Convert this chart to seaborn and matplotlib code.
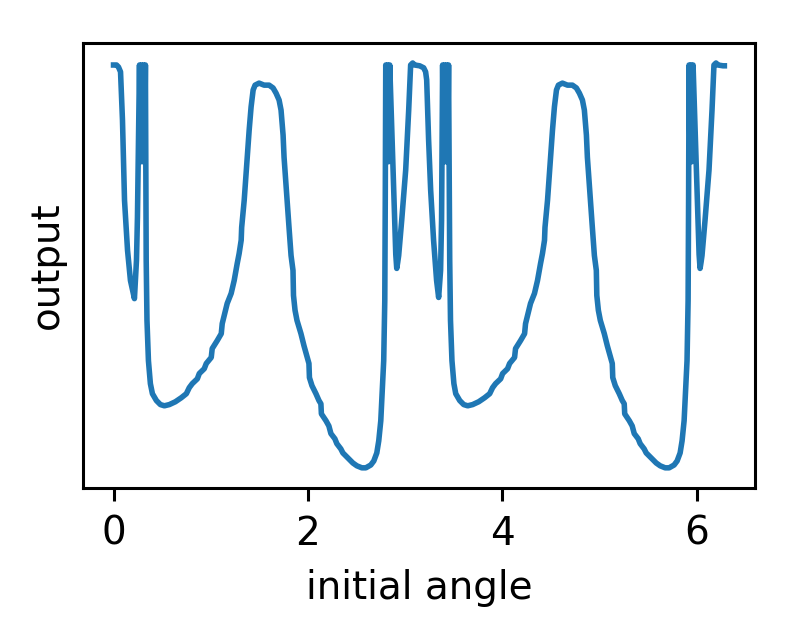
import numpy as np
import pandas as pd
import matplotlib
matplotlib.use("Agg")
import matplotlib.pyplot as plt
import seaborn as sns


# Data (angle in radians, output in arbitrary units)
angle = [
    0.000, 0.031, 0.051, 0.072, 0.092, 0.113, 0.144, 0.174, 0.215, 0.236,
    0.246, 0.267, 0.277, 0.287, 0.297, 0.308, 0.318, 0.328, 0.336, 0.344,
    0.359, 0.379,
    0.400, 0.441, 0.482, 0.523, 0.574, 0.636, 0.697, 0.749, 0.779, 0.810,
    0.862, 0.882, 0.933, 0.954, 1.005, 1.015, 1.067, 1.108, 1.118, 1.138,
    1.169, 1.210, 1.241, 1.272, 1.292, 1.313, 1.318, 1.344, 1.364, 1.395,
    1.415, 1.436, 1.456, 1.497, 1.549, 1.600, 1.641, 1.672, 1.703, 1.723,
    1.744, 1.754, 1.785, 1.805, 1.826, 1.846, 1.851, 1.867, 1.887, 1.928,
    1.959, 2.010, 2.015, 2.041, 2.082, 2.113, 2.133, 2.138, 2.185, 2.215,
    2.236, 2.277, 2.297, 2.338, 2.359, 2.421, 2.462, 2.503, 2.554, 2.595,
    2.646, 2.677, 2.708, 2.728, 2.749, 2.759, 2.779, 2.790, 2.795, 2.800,
    2.810, 2.820, 2.830, 2.841, 2.903, 2.913, 2.923, 2.933, 2.964,
    3.005, 3.036, 3.056, 3.077, 3.097, 3.149, 3.190, 3.210, 3.221, 3.241,
    3.262, 3.292, 3.323, 3.344, 3.364, 3.374, 3.385, 3.395, 3.405, 3.415,
    3.426, 3.436, 3.446, 3.458, 3.466, 3.481, 3.501, 3.520, 3.561, 3.602,
    3.643, 3.694,
    3.756, 3.817, 3.869, 3.899, 3.930, 3.982, 4.002, 4.053, 4.074, 4.125,
    4.135, 4.187, 4.228, 4.238, 4.258, 4.289, 4.330, 4.361, 4.392, 4.412,
    4.433, 4.438, 4.464, 4.484, 4.515, 4.535, 4.556, 4.576, 4.617, 4.669,
    4.720, 4.761, 4.792, 4.823, 4.843, 4.864, 4.874, 4.905, 4.925, 4.946,
    4.966, 4.971, 4.987, 5.007, 5.048, 5.079, 5.130, 5.135, 5.161, 5.202,
    5.233, 5.253, 5.258, 5.305, 5.335, 5.356, 5.397, 5.417, 5.458, 5.479,
    5.541, 5.582, 5.623, 5.674, 5.715, 5.766, 5.797, 5.828, 5.848, 5.869,
    5.879, 5.899, 5.910, 5.915, 5.920, 5.930, 5.940, 5.950, 5.961, 6.023,
    6.033, 6.043, 6.053, 6.084, 6.125, 6.156, 6.176, 6.197, 6.217,
    6.269, 6.283,
]

output = [
    1.000, 1.000, 0.995, 0.983, 0.863, 0.664, 0.540, 0.465, 0.420, 0.515,
    0.622, 1.000, 0.760, 1.000, 0.760, 1.000, 0.760, 1.000, 0.515, 0.366,
    0.266, 0.209,
    0.184, 0.167, 0.157, 0.154, 0.157, 0.164, 0.174, 0.184, 0.199, 0.209,
    0.221, 0.234, 0.246, 0.259, 0.274, 0.296, 0.316, 0.333, 0.358, 0.378,
    0.408, 0.433, 0.465, 0.507, 0.532, 0.565, 0.597, 0.664, 0.731, 0.838,
    0.896, 0.938, 0.950, 0.955, 0.950, 0.950, 0.943, 0.930, 0.913, 0.888,
    0.826, 0.771, 0.664, 0.597, 0.527, 0.490, 0.428, 0.391, 0.366, 0.333,
    0.303, 0.259, 0.224, 0.204, 0.184, 0.167, 0.159, 0.134, 0.117, 0.104,
    0.085, 0.072, 0.060, 0.047, 0.037, 0.022, 0.012, 0.005, 0.000, 0.000,
    0.007, 0.017, 0.037, 0.067, 0.117, 0.167, 0.266, 0.415, 0.664, 1.000,
    0.760, 1.000, 0.760, 1.000, 0.530, 0.495, 0.510, 0.527, 0.614,
    0.739, 0.888, 1.000, 1.005, 1.000, 0.998, 0.993, 0.983, 0.963, 0.813,
    0.689, 0.565, 0.465, 0.423, 0.490, 0.614, 1.000, 0.760, 1.000, 0.760,
    1.000, 0.760, 1.000, 0.515, 0.366, 0.266, 0.209, 0.184, 0.167, 0.157,
    0.154, 0.157,
    0.164, 0.174, 0.184, 0.199, 0.209, 0.221, 0.234, 0.246, 0.259, 0.274,
    0.296, 0.316, 0.333, 0.358, 0.378, 0.408, 0.433, 0.465, 0.507, 0.532,
    0.565, 0.597, 0.664, 0.731, 0.838, 0.896, 0.938, 0.950, 0.955, 0.950,
    0.950, 0.943, 0.930, 0.913, 0.888, 0.826, 0.771, 0.664, 0.597, 0.527,
    0.490, 0.428, 0.391, 0.366, 0.333, 0.303, 0.259, 0.224, 0.204, 0.184,
    0.167, 0.159, 0.134, 0.117, 0.104, 0.085, 0.072, 0.060, 0.047, 0.037,
    0.022, 0.012, 0.005, 0.000, 0.000, 0.007, 0.017, 0.037, 0.067, 0.117,
    0.167, 0.266, 0.415, 0.664, 1.000, 0.760, 1.000, 0.760, 1.000, 0.530,
    0.495, 0.510, 0.527, 0.614, 0.739, 0.888, 1.000, 1.005, 1.000,
    0.998, 0.998,
]

x_ticks = [0, 2, 4, 6]

df = pd.DataFrame({"initial angle": angle, "output": output})

plt.rcParams.update({
    "font.size": 14,
    "axes.linewidth": 1.1,
    "xtick.major.size": 4.8,
    "xtick.major.width": 1.1,
    "xtick.major.pad": 4.8,
    "axes.labelpad": 6,
})


# Plot
fig, ax = plt.subplots(figsize=(3.99, 3.19), dpi=200)
fig.subplots_adjust(left=0.104, right=0.946, top=0.933, bottom=0.235)

sns.lineplot(data=df, x="initial angle", y="output", sort=False,
             estimator=None, color="#1f77b4", linewidth=2.0, ax=ax)

ax.set_xticks(x_ticks)
ax.set_yticks([])
ax.set_xlabel("initial angle")
ax.set_ylabel("output")

fig.savefig("out.png", dpi=200)
